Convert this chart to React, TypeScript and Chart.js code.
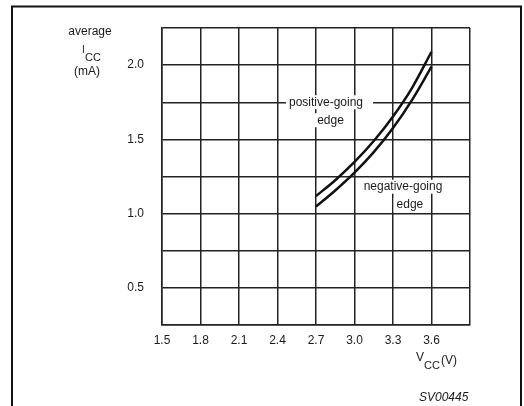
import { useEffect, useRef } from "react";
import { Chart, registerables } from "chart.js";

Chart.register(...registerables);

// ---- data ----
const positiveVcc = [2.7, 2.85, 3.0, 3.15, 3.3, 3.45, 3.6];
const positiveIcc = [1.118, 1.225, 1.348, 1.489, 1.654, 1.849, 2.09];
const negativeVcc = [2.7, 2.85, 3.0, 3.15, 3.3, 3.45, 3.6];
const negativeIcc = [1.048, 1.156, 1.276, 1.414, 1.576, 1.768, 1.99];

const xTickLabels = ["1.5", "1.8", "2.1", "2.4", "2.7", "3.0", "3.3", "3.6"];
const yTickLabels = ["0.5", "1.0", "1.5", "2.0"];

const X_MIN = 1.5;
const X_MAX = 3.9;
const X_STEP = 0.3;
const Y_MIN = 0.25;
const Y_MAX = 2.25;
const Y_STEP = 0.25;

// curve annotations (data coordinates)
const annotationTexts = ["positive-going", "edge", "negative-going", "edge"];
const annotationVcc = [2.778, 2.813, 3.378, 3.432];
const annotationIcc = [1.75, 1.629, 1.181, 1.062];

const FONT = '"Liberation Sans", Arial, Helvetica, sans-serif';
const INK = "#1a1a1a";

const decorPlugin = {
  id: "decor",
  beforeDatasetsDraw(chart: any) {
    const ctx = chart.ctx;
    const xs = chart.scales.x;
    const ys = chart.scales.y;
    ctx.save();
    ctx.font = `12px ${FONT}`;
    ctx.fillStyle = "#fff";
    annotationTexts.forEach((t, i) => {
      const px = xs.getPixelForValue(annotationVcc[i]);
      const py = ys.getPixelForValue(annotationIcc[i]);
      const w = ctx.measureText(t).width;
      const padR = i === 0 ? 10 : 3;
      ctx.fillRect(px - w / 2 - 3, py - 7, w + 3 + padR, 14);
    });
    ctx.restore();
  },
  afterDraw(chart: any) {
    const ctx = chart.ctx;
    const xs = chart.scales.x;
    const ys = chart.scales.y;
    ctx.save();
    // outer frame
    ctx.strokeStyle = "#111";
    ctx.lineWidth = 2;
    ctx.beginPath();
    ctx.moveTo(12, 406);
    ctx.lineTo(12, 6.5);
    ctx.lineTo(521, 6.5);
    ctx.lineTo(521, 406);
    ctx.stroke();

    ctx.fillStyle = INK;
    ctx.textBaseline = "middle";
    ctx.font = `12px ${FONT}`;

    // annotations
    ctx.textAlign = "center";
    annotationTexts.forEach((t, i) => {
      const px = xs.getPixelForValue(annotationVcc[i]);
      const py = ys.getPixelForValue(annotationIcc[i]);
      ctx.fillText(t, px, py);
    });

    // y axis title
    ctx.textAlign = "center";
    ctx.fillText("average", 90, 32);
    ctx.textAlign = "left";
    ctx.font = `10px ${FONT}`;
    ctx.fillText("I", 82, 50);
    ctx.font = `11px ${FONT}`;
    ctx.fillText("CC", 85, 58);
    ctx.font = `12px ${FONT}`;
    ctx.textAlign = "center";
    ctx.fillText("(mA)", 87, 72);

    // x axis title
    ctx.textAlign = "left";
    ctx.font = `12px ${FONT}`;
    ctx.fillText("V", 416, 358);
    ctx.font = `11px ${FONT}`;
    ctx.fillText("CC", 424, 366);
    ctx.font = `12px ${FONT}`;
    ctx.fillText("(V)", 441, 361);

    // figure code
    ctx.font = `italic 12px ${FONT}`;
    ctx.textAlign = "left";
    ctx.fillText("SV00445", 419, 398);
    ctx.restore();
  },
};

export default function App() {
  const canvasRef = useRef<HTMLCanvasElement | null>(null);

  useEffect(() => {
    const canvas = canvasRef.current;
    if (!canvas) return;
    const chart = new Chart(canvas, {
      type: "line",
      data: {
        datasets: [
          {
            label: "positive-going edge",
            data: positiveVcc.map((x, i) => ({ x, y: positiveIcc[i] })),
            borderColor: "#111",
            borderWidth: 2.5,
            pointRadius: 0,
            cubicInterpolationMode: "monotone",
            fill: false,
          },
          {
            label: "negative-going edge",
            data: negativeVcc.map((x, i) => ({ x, y: negativeIcc[i] })),
            borderColor: "#111",
            borderWidth: 2.5,
            pointRadius: 0,
            cubicInterpolationMode: "monotone",
            fill: false,
          },
        ],
      },
      options: {
        animation: false,
        responsive: false,
        devicePixelRatio: 1,
        layout: { padding: { left: 122, right: 54, top: 28, bottom: 51 } },
        plugins: {
          legend: { display: false },
          tooltip: { enabled: false },
          title: { display: false },
        },
        scales: {
          x: {
            type: "linear",
            min: X_MIN,
            max: X_MAX,
            ticks: {
              stepSize: X_STEP,
              autoSkip: false,
              maxRotation: 0,
              padding: 8,
              color: INK,
              font: { family: FONT, size: 12 },
              callback: (v: any) => {
                const s = Number(v).toFixed(1);
                return xTickLabels.includes(s) ? s : "";
              },
            },
            grid: { color: "#222", lineWidth: 1.5, drawTicks: false },
            border: { color: "#222", width: 1.5 },
            afterFit: (scale: any) => {
              scale.height = 30;
            },
          },
          y: {
            type: "linear",
            min: Y_MIN,
            max: Y_MAX,
            ticks: {
              stepSize: Y_STEP,
              autoSkip: false,
              padding: 18,
              color: INK,
              font: { family: FONT, size: 12 },
              callback: (v: any) => {
                const s = Number(v).toFixed(1);
                return yTickLabels.includes(s) && Math.abs(Number(v) - Number(s)) < 1e-6 ? s : "";
              },
            },
            grid: { color: "#222", lineWidth: 1.5, drawTicks: false },
            border: { color: "#222", width: 1.5 },
            afterFit: (scale: any) => {
              scale.width = 40;
            },
          },
        },
      },
      plugins: [decorPlugin],
    } as any);
    return () => chart.destroy();
  }, []);

  return (
    <div
      style={{
        position: "fixed",
        left: 0,
        top: 0,
        width: 524,
        height: 406,
        background: "#fff",
      }}
    >
      <canvas ref={canvasRef} width={524} height={406} style={{ display: "block" }} />
    </div>
  );
}
